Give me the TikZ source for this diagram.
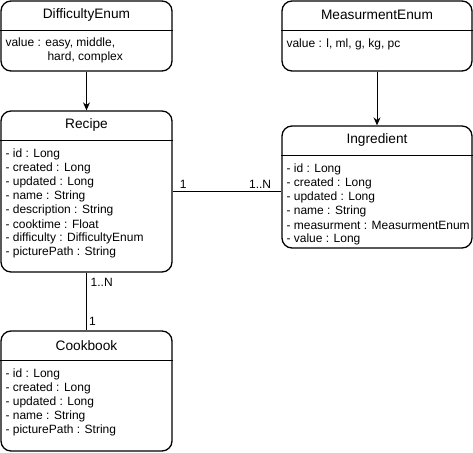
\documentclass[tikz,border=0pt]{standalone}
\usepackage{fontspec}
\setmainfont{Liberation Sans}
\usetikzlibrary{arrows.meta,positioning}

\tikzset{%
  every class/.style={
    draw,
    line width=1.3pt,
    rounded corners=10pt,
    inner sep=0pt
  },
  class divider/.style={
    line width=1pt
  },
  class title/.style={
    inner sep=0pt,
    font=\fontsize{13.7}{16}\selectfont
  },
  class attr/.style={
    anchor=west,
    inner sep=0pt,
    align=left,
    font=\fontsize{12}{14}\selectfont
  },
  link/.style={
    line width=1pt
  },
  link label/.style={
    inner sep=0pt,
    font=\fontsize{12}{14}\selectfont
  },
}

\begin{document}
\begin{tikzpicture}[x=1pt, y=-1pt, >={Stealth[length=8pt,width=7pt]}]

    \useasboundingbox (0,0) rectangle (473,452);

    % classes
    \node [every class, minimum width=171pt, minimum height=70pt] (difficulty) at (86.5,36) {};
    \node [every class, minimum width=190pt, minimum height=70pt] (measurment) at (377,36) {};
    \node [every class, minimum width=171pt, minimum height=161pt] (recipe) at (86.5,191.5) {};
    \node [every class, minimum width=190pt, minimum height=122pt] (ingredient) at (377,187) {};
    \node [every class, minimum width=171pt, minimum height=120pt] (cookbook) at (86.5,391) {};

    \foreach \c/\t in {difficulty/DifficultyEnum, measurment/MeasurmentEnum,
                       recipe/Recipe, ingredient/Ingredient, cookbook/Cookbook}
    {
      \draw [class divider] ([yshift=-30pt]\c.north west) -- ([yshift=-30pt]\c.north east);
      \node [class title] (\c-title) at ([yshift=-15pt]\c.north) {\t};
    }

    % attributes
    \node [class attr, anchor=north west] (difficulty-1) at ([xshift=5pt,yshift=-37pt]difficulty.north west)
      {value : easy, middle,\\\hspace*{42pt}hard, complex};
    \node [class attr] (measurment-1) at ([xshift=5pt,yshift=-44pt]measurment.north west)
      {value : l, ml, g, kg, pc};

    \foreach \a [count=\i] in {- id : Long, - created : Long, - updated : Long,
        - name : String, - description : String, - cooktime : Float,
        - difficulty : DifficultyEnum, - picturePath : String}
      \node [class attr] (recipe-\i) at ([xshift=5pt,yshift={-30pt-14pt*\i}]recipe.north west) {\a};

    \foreach \a [count=\i] in {- id : Long, - created : Long, - updated : Long,
        - name : String, - measurment : MeasurmentEnum, - value : Long}
      \node [class attr] (ingredient-\i) at ([xshift=5pt,yshift={-30pt-14pt*\i}]ingredient.north west) {\a};

    \foreach \a [count=\i] in {- id : Long, - created : Long, - updated : Long,
        - name : String, - picturePath : String}
      \node [class attr] (cookbook-\i) at ([xshift=5pt,yshift={-30pt-14pt*\i}]cookbook.north west) {\a};

    % links
    \draw [link, ->] (difficulty) -- (recipe);
    \draw [link, ->] (measurment) -- (ingredient);

    \draw [link] (recipe.east) -- (recipe.east -| ingredient.west);
    \node [link label, anchor=south west] (recipe-one) at ([xshift=7pt,yshift=3pt]recipe.east) {1};
    \node [link label, anchor=south east] (ingredient-many) at ([xshift=-10pt,yshift=3pt]recipe.east -| ingredient.west) {1..N};

    \draw [link] (recipe) -- (cookbook);
    \node [link label, anchor=north west] (recipe-many) at ([xshift=4pt,yshift=-5pt]recipe.south) {1..N};
    \node [link label, anchor=south west] (cookbook-one) at ([xshift=2.5pt,yshift=5pt]cookbook.north) {1};

\end{tikzpicture}
\end{document}
